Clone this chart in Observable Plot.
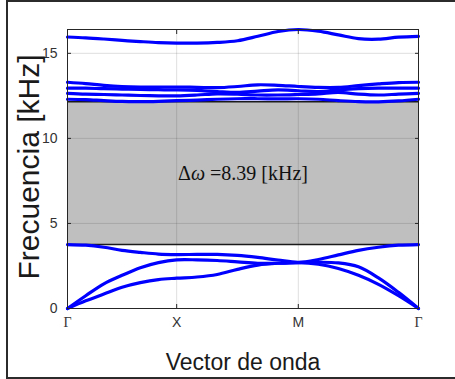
<!DOCTYPE html>
<html><head><meta charset="utf-8">
<script src="https://cdn.jsdelivr.net/npm/d3@7"></script>
<script src="https://cdn.jsdelivr.net/npm/@observablehq/plot@0.6"></script>
<style>
body{margin:0;background:#fff;width:455px;height:379px;overflow:hidden;position:relative;font-family:"Liberation Sans",Arial,sans-serif}
#frame{position:absolute;left:6px;top:0;width:480px;height:375px;border:2px solid #2b2b2b}
#chart{position:absolute;left:0;top:0}
</style></head><body><div id="frame"></div><div id="chart"></div>
<script>
// wave-vector path positions (Γ, X, M, Γ) and tick labels
const kTicks = [0, 1, 2.114, 3.215];
const kTickLabels = ["Γ", "X", "M", "Γ"];
// sample positions along the path (6 per segment)
const kPos = [0, 0.167, 0.333, 0.5, 0.667, 0.833, 1,
              1.186, 1.371, 1.557, 1.743, 1.928, 2.114,
              2.298, 2.481, 2.665, 2.848, 3.032, 3.215];
const freqTicks = [0, 5, 10, 15];
const freqDomain = [0, 16.4];
const gapEdges = [3.76, 12.15];
const gapLabel = "Δω =8.39 [kHz]";
const xLabel = "Vector de onda";
const yLabel = "Frecuencia [kHz]";

// acoustic bands (kHz)
const band1 = [0, 0.45, 0.85, 1.25, 1.52, 1.7, 1.78,  1.85, 2.0, 2.3, 2.55, 2.66, 2.7,  2.6, 2.35, 1.95, 1.42, 0.75, 0];
const band2 = [0, 0.75, 1.45, 1.95, 2.4, 2.7, 2.86,  2.86, 2.82, 2.74, 2.66, 2.66, 2.7,  2.72, 2.68, 2.45, 1.8, 0.95, 0];
const band3 = [3.76, 3.72, 3.6, 3.42, 3.3, 3.2, 3.17,  3.18, 3.18, 3.12, 3.0, 2.85, 2.72,  2.88, 3.15, 3.42, 3.6, 3.72, 3.76];
// optical bands (kHz)
const band4 = [12.3, 12.28, 12.22, 12.17, 12.16, 12.18, 12.22,  12.25, 12.3, 12.33, 12.33, 12.32, 12.33,  12.3, 12.22, 12.16, 12.15, 12.2, 12.3];
const band5 = [12.65, 12.6, 12.58, 12.55, 12.52, 12.5, 12.5,  12.55, 12.62, 12.6, 12.55, 12.55, 12.58,  12.62, 12.7, 12.6, 12.55, 12.6, 12.65];
const band6 = [12.95, 12.95, 12.92, 12.9, 12.88, 12.86, 12.85,  12.82, 12.75, 12.7, 12.78, 12.85, 12.8,  12.75, 12.85, 12.92, 12.95, 12.95, 12.95];
const band7 = [13.3, 13.22, 13.12, 13.05, 13.02, 13.02, 13.02,  13.0, 12.98, 13.05, 13.15, 13.12, 13.05,  13.0, 13.0, 13.1, 13.2, 13.28, 13.3];
const band8 = [15.96, 15.91, 15.84, 15.76, 15.69, 15.63, 15.6,  15.6, 15.64, 15.74, 16.0, 16.28, 16.4,  16.3, 16.08, 15.86, 15.83, 15.95, 16.0];

const bands = [band1, band2, band3, band4, band5, band6, band7, band8];
const rows = bands.flatMap((b, j) => b.map((f, i) => ({k: kPos[i], f, band: j})));

const xMin = kTicks[0], xMax = kTicks[kTicks.length - 1];

const chart = Plot.plot({
  width: 455, height: 379,
  marginLeft: 67, marginRight: 37, marginTop: 29, marginBottom: 71,
  x: {domain: [xMin, xMax]},
  y: {domain: freqDomain},
  style: {fontFamily: '"Liberation Sans", Arial, sans-serif', background: "transparent"},
  marks: [
    Plot.rect([{y1: gapEdges[0], y2: gapEdges[1]}], {x1: xMin, x2: xMax, y1: "y1", y2: "y2", fill: "#bfbfbf"}),
    Plot.ruleX(kTicks.slice(1, -1), {stroke: "#262626", strokeOpacity: 0.15}),
    Plot.ruleY(freqTicks.slice(1), {stroke: "#262626", strokeOpacity: 0.15}),
    Plot.ruleY(gapEdges, {stroke: "#1a1a1a", strokeWidth: 1.5}),
    Plot.line(rows, {x: "k", y: "f", z: "band", stroke: "#0000ff", strokeWidth: 3.2, curve: "catmull-rom"}),
    Plot.text([gapLabel], {x: (xMin + xMax) / 2, y: (gapEdges[0] + gapEdges[1]) / 2,
      fontFamily: '"Liberation Serif", "DejaVu Serif", serif', fontSize: 20, fill: "#111"}),
    Plot.frame({stroke: "#262626"}),
    Plot.axisY(freqTicks, {tickSize: -4, tickPadding: 14, fontSize: 14, fill: "#333", stroke: "#262626", label: null}),
    Plot.axisY(freqTicks, {anchor: "right", tickSize: -4, tickFormat: () => "", stroke: "#262626", label: null}),
    Plot.axisX(kTicks, {tickSize: -4, tickPadding: 13, fontSize: 14, fill: "#333", stroke: "#262626",
      tickFormat: (d, i) => kTickLabels[i], label: null}),
    Plot.axisX(kTicks.slice(1, -1), {anchor: "top", tickSize: -4, tickFormat: () => "", stroke: "#262626", label: null}),
    Plot.text([xLabel], {frameAnchor: "bottom", textAnchor: "middle", lineAnchor: "middle", dy: 54, fontSize: 23, fill: "#1a1a1a"}),
    Plot.text([yLabel], {frameAnchor: "left", textAnchor: "middle", lineAnchor: "middle", rotate: -90, dx: -38, dy: -2, fontSize: 30, fill: "#1a1a1a"})
  ]
});
document.getElementById("chart").appendChild(chart);
const svg = d3.select(chart);
svg.selectAll("text").filter(function(){ return this.textContent === "Γ"; })
  .attr("font-family", '"Liberation Serif", "DejaVu Serif", serif');
// LaTeX-like styling: italic omega in the gap label
svg.selectAll("text").filter(function(){ return this.textContent === gapLabel; })
  .each(function(){
    const t = d3.select(this);
    const parts = [[gapLabel.slice(0, 1), "normal"], [gapLabel.slice(1, 2), "italic"], [gapLabel.slice(2), "normal"]];
    t.text(null);
    parts.forEach(([s, st]) => t.append("tspan").attr("font-style", st).text(s));
  });
</script></body></html>
